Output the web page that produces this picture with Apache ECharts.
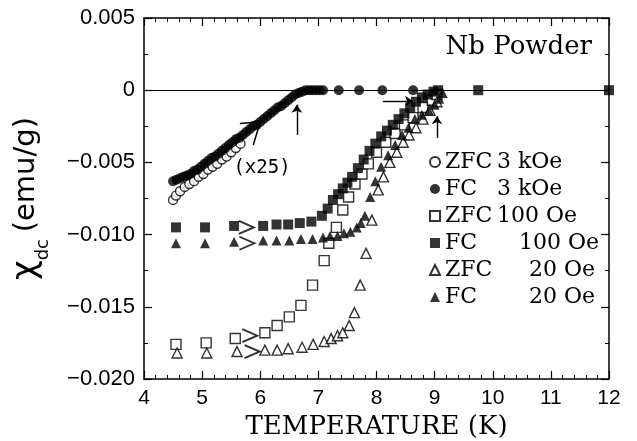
<!DOCTYPE html>
<html>
<head>
<meta charset="utf-8">
<script src="https://cdn.jsdelivr.net/npm/echarts@6/dist/echarts.min.js"></script>
<style>
  html, body { margin: 0; padding: 0; background: #fff; }
  #chart { width: 637px; height: 441px; }
</style>
</head>
<body>
<div id="chart"></div>
<script>
// temperature (K) / chi_dc (emu/g)
var zfc3kT = [4.50, 4.55, 4.62, 4.70, 4.78, 4.86, 4.94, 5.02, 5.10, 5.18, 5.26, 5.34, 5.42, 5.50, 5.58, 5.66];
var zfc3kV = [-0.0076, -0.0073, -0.0070, -0.0067, -0.0065, -0.0063, -0.0060, -0.0058, -0.0055, -0.0053, -0.0051, -0.0048, -0.0046, -0.0043, -0.0040, -0.0037];

var fc3kT = [4.50, 4.56, 4.62, 4.68, 4.74, 4.80, 4.86, 4.92, 4.98, 5.04, 5.10, 5.16, 5.22, 5.28, 5.34, 5.40,
             5.46, 5.52, 5.58, 5.64, 5.70, 5.76, 5.82, 5.88, 5.94, 6.00, 6.06, 6.12, 6.18, 6.24, 6.30, 6.36,
             6.42, 6.48, 6.54, 6.60, 6.66, 6.72, 6.78, 6.84, 6.90, 6.96, 7.02, 7.08, 7.35, 7.70, 8.10, 8.63];
var fc3kV = [-0.0063, -0.0062, -0.0061, -0.0060, -0.0059, -0.0058, -0.0056, -0.0055, -0.0053, -0.0051, -0.0049, -0.0047, -0.0046, -0.0044, -0.0042, -0.0040,
             -0.0038, -0.0036, -0.0034, -0.0033, -0.0031, -0.0029, -0.0027, -0.0025, -0.0024, -0.0022, -0.0020, -0.0018, -0.0016, -0.0014, -0.0012, -0.0011,
             -0.0009, -0.0007, -0.0005, -0.0003, -0.0002, -0.0001, 0, 0, 0, 0, 0, 0, 0, 0, 0, 0];

var zfc100T = [4.55, 5.07, 5.57, 6.08, 6.29, 6.50, 6.70, 6.90, 7.10, 7.18, 7.31, 7.42, 7.52, 7.63, 7.75, 7.86, 8.00, 8.16, 8.32, 8.48, 8.63, 8.80, 8.96, 9.04];
var zfc100V = [-0.0176, -0.0175, -0.0172, -0.0168, -0.0163, -0.0157, -0.0149, -0.0135, -0.0118, -0.0106, -0.0095, -0.0083, -0.0074, -0.0065, -0.0058, -0.0051, -0.0043, -0.0036, -0.0030, -0.0024, -0.0019, -0.0012, -0.0007, -0.0003];

var fc100T = [4.55, 5.05, 5.55, 6.05, 6.28, 6.48, 6.68, 6.88, 7.06, 7.16, 7.25, 7.34, 7.42, 7.50, 7.58, 7.68, 7.78, 7.88, 7.98, 8.08,
              8.18, 8.28, 8.38, 8.48, 8.58, 8.68, 8.78, 8.88, 8.98, 9.06, 9.75, 12.0];
var fc100V = [-0.0095, -0.0095, -0.0094, -0.0094, -0.0093, -0.0093, -0.0092, -0.0091, -0.0087, -0.0082, -0.0076, -0.0072, -0.0068, -0.0064, -0.0060, -0.0054, -0.0048, -0.0042, -0.0037, -0.0032,
              -0.0028, -0.0024, -0.0020, -0.0016, -0.0012, -0.0008, -0.0005, -0.0003, -0.0001, 0, 0, 0];

var zfc20T = [4.57, 5.08, 5.60, 6.08, 6.29, 6.48, 6.72, 6.91, 7.10, 7.22, 7.33, 7.42, 7.53, 7.62, 7.72, 7.82, 7.92, 8.03, 8.12, 8.23, 8.35, 8.46, 8.56, 8.68, 8.80, 8.92, 9.04];
var zfc20V = [-0.0182, -0.0182, -0.0181, -0.0180, -0.0180, -0.0179, -0.0178, -0.0176, -0.0174, -0.0172, -0.0170, -0.0168, -0.0163, -0.0154, -0.0135, -0.0113, -0.0090, -0.0069, -0.0060, -0.0050, -0.0043, -0.0036, -0.0031, -0.0026, -0.0020, -0.0014, -0.0008];

var fc20T = [4.55, 5.05, 5.55, 6.05, 6.28, 6.50, 6.70, 6.90, 7.08, 7.20, 7.33, 7.44, 7.55, 7.66, 7.73, 7.80, 7.89, 7.98, 8.08, 8.20, 8.32, 8.44, 8.55, 8.66, 8.78, 8.90, 9.00, 9.08, 9.14];
var fc20V = [-0.0106, -0.0106, -0.0105, -0.0104, -0.0104, -0.0104, -0.0103, -0.0103, -0.0102, -0.0101, -0.0101, -0.0099, -0.0098, -0.0095, -0.0092, -0.0087, -0.0074, -0.0063, -0.0053, -0.0045, -0.0038, -0.0031, -0.0026, -0.0020, -0.0017, -0.0014, -0.0010, -0.0006, -0.0002];

// ">" marks between the low-T points
var chevronT = [5.76, 5.77, 5.82, 5.86];
var chevronV = [-0.0095, -0.0106, -0.0170, -0.0181];

// arrows (data coords): [from, to]
var arrows = [
    [[6.63, -0.0031], [6.63, -0.0010]],
    [[8.11, -0.00076], [8.63, -0.00076]],
    [[9.04, -0.0033], [9.04, -0.0018]]
];
var arrowHead = [[5.65, -0.0023], [6.0, -0.0022], [5.88, -0.0038]];

var legendNames = ['ZFC 3 kOe', 'FC 3 kOe', 'ZFC 100 Oe', 'FC 100 Oe', 'ZFC 20 Oe', 'FC 20 Oe'];
var legendPad = [0, 0, 0, 22, 32, 32];

function pairs(t, v) {
    var out = [];
    for (var i = 0; i < t.length; i++) out.push([t[i], v[i]]);
    return out;
}

var serif = 'DejaVu Serif';
var sans = 'Liberation Sans';

function dots(name, t, v, symbol, size, filled, z) {
    return {
        name: name,
        type: 'scatter',
        data: pairs(t, v),
        symbol: symbol,
        symbolSize: size,
        z: z,
        itemStyle: filled ? {color: '#000', borderColor: '#000', borderWidth: 0}
                          : {color: '#fff', borderColor: '#000', borderWidth: 1.4},
        emphasis: {disabled: true}
    };
}

// box axis with inward ticks
function frameAxis(pos, min, max, step, minorSplit, extra) {
    var ax = {
        type: 'value', position: pos, min: min, max: max, interval: step,
        axisLine: {show: true, onZero: false, lineStyle: {color: '#000', width: 1.5}},
        axisTick: {show: true, inside: true, length: 8, lineStyle: {color: '#000', width: 1.2}},
        minorTick: {show: true, splitNumber: minorSplit, length: 4, lineStyle: {color: '#000', width: 1}},
        axisLabel: {show: false, inside: false},
        splitLine: {show: false}
    };
    for (var k in extra) ax[k] = extra[k];
    return ax;
}

var chart = echarts.init(document.getElementById('chart'));

chart.setOption({
    backgroundColor: '#fff',
    animation: false,
    title: {
        text: 'Nb Powder',
        right: 40,
        top: 29,
        textStyle: {fontFamily: serif, fontSize: 26, fontWeight: 'normal', color: '#000'}
    },
    legend: {
        data: legendNames,
        orient: 'vertical',
        left: 424,
        top: 146,
        itemWidth: 10,
        itemHeight: 10,
        itemGap: 5,
        selectedMode: false,
        formatter: function (name) {
            var i = legendNames.indexOf(name);
            var parts = name.split(' ');
            return '{a|' + parts[0] + '}{p' + legendPad[i] + '|}{b|' + parts.slice(1).join(' ') + '}';
        },
        textStyle: {
            fontFamily: serif, fontSize: 22, color: '#000',
            rich: {
                a: {fontFamily: serif, fontSize: 22, width: 52, color: '#000'},
                b: {fontFamily: serif, fontSize: 22, color: '#000'},
                p0: {width: 0},
                p22: {width: 22},
                p32: {width: 32}
            }
        }
    },
    grid: {left: 144, right: 28, top: 18, bottom: 62, containLabel: false, outerBoundsMode: 'none'},
    xAxis: [
        frameAxis('bottom', 4, 12, 1, 5, {
            name: 'TEMPERATURE (K)', nameLocation: 'middle', nameGap: 30,
            nameTextStyle: {fontFamily: serif, fontSize: 26, color: '#000'},
            axisLabel: {show: true, fontFamily: sans, fontSize: 21, color: '#000', margin: 9}
        }),
        frameAxis('top', 4, 12, 1, 5, {})
    ],
    yAxis: [
        frameAxis('left', -0.02, 0.005, 0.005, 2, {
            name: '{chi|χ}{sub|dc}  {u|(emu/g)}', nameLocation: 'middle', nameGap: 92, nameRotate: 90,
            nameTextStyle: {
                color: '#000',
                rich: {
                    chi: {fontFamily: 'DejaVu Sans', fontSize: 34, color: '#000', lineHeight: 40},
                    sub: {fontFamily: 'DejaVu Sans', fontSize: 18, color: '#000', lineHeight: 52, verticalAlign: 'bottom'},
                    u: {fontFamily: 'DejaVu Sans', fontSize: 29, color: '#000', lineHeight: 40}
                }
            },
            axisLabel: {
                show: true, fontFamily: sans, fontSize: 22, color: '#000', margin: 9,
                formatter: function (v) {
                    if (Math.abs(v) < 1e-9) return '0';
                    return (v < 0 ? '\u2212' : '') + Math.abs(v).toFixed(3);
                }
            }
        }),
        frameAxis('right', -0.02, 0.005, 0.005, 2, {})
    ],
    series: [
        dots('ZFC 3 kOe', zfc3kT, zfc3kV, 'circle', 9, false, 3),
        dots('FC 3 kOe', fc3kT, fc3kV, 'circle', 10, true, 4),
        dots('ZFC 100 Oe', zfc100T, zfc100V, 'rect', 10, false, 3),
        dots('FC 100 Oe', fc100T, fc100V, 'rect', 10, true, 4),
        dots('ZFC 20 Oe', zfc20T, zfc20V, 'triangle', 10, false, 3),
        dots('FC 20 Oe', fc20T, fc20V, 'triangle', 10, true, 4),
        {
            name: 'chevrons',
            type: 'scatter',
            data: pairs(chevronT, chevronV),
            symbol: 'path://M0,0L12,6L0,12',
            symbolSize: [15, 13],
            itemStyle: {color: 'transparent', borderColor: '#000', borderWidth: 2},
            silent: true
        },
        {
            name: 'zero',
            type: 'line',
            data: [],
            silent: true,
            markLine: {
                silent: true,
                symbol: 'none',
                label: {show: false},
                lineStyle: {color: '#000', width: 1.2, type: 'solid'},
                data: [{yAxis: 0}]
            }
        },
        {
            name: 'arrows',
            type: 'line',
            data: [],
            silent: true,
            markLine: {
                silent: true,
                symbol: ['none', 'arrow'],
                symbolSize: 8,
                label: {show: false},
                lineStyle: {color: '#000', width: 1.4, type: 'solid'},
                data: arrows.map(function (a) {
                    return [{coord: a[0]}, {coord: a[1]}];
                })
            }
        },
        {
            name: 'arrowhead',
            type: 'line',
            data: arrowHead,
            showSymbol: false,
            silent: true,
            lineStyle: {color: '#000', width: 1.5},
            markPoint: {
                silent: true,
                symbol: 'circle',
                symbolSize: 0,
                label: {
                    show: true, position: 'inside', formatter: '(x25)',
                    fontFamily: 'DejaVu Sans Mono', fontSize: 19, color: '#000'
                },
                data: [{coord: [6.03, -0.0054]}]
            }
        }
    ]
});
</script>
</body>
</html>
